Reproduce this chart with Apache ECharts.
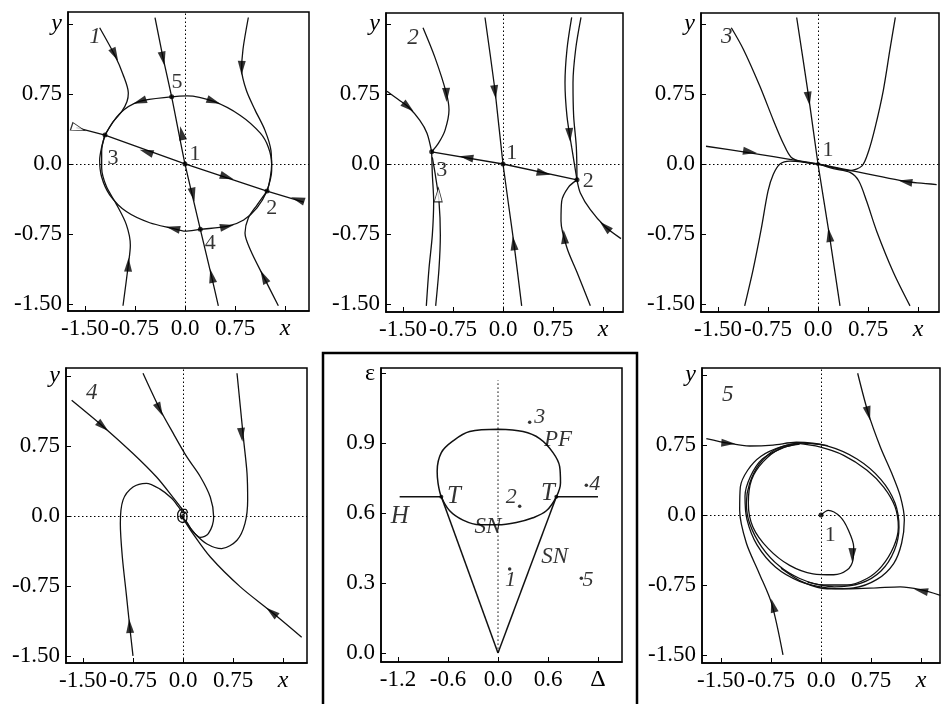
<!DOCTYPE html>
<html>
<head>
<meta charset="utf-8">
<script src="https://cdn.jsdelivr.net/npm/echarts@6/dist/echarts.min.js"></script>
<style>
  html, body { margin: 0; padding: 0; background: #fff; }
  #chart { width: 942px; height: 704px; }
</style>
</head>
<body>
<div id="chart"></div>
<script>
// ---------- tick values and tick texts ----------
const tickPhase = [-1.5, -0.75, 0, 0.75, 1.5];
const tickPhaseText = ['-1.50', '-0.75', '0.0', '0.75'];
const tickDelta = [-1.2, -0.6, 0, 0.6, 1.2];
const tickDeltaText = ['-1.2', '-0.6', '0.0', '0.6'];
const tickEps = [0, 0.3, 0.6, 0.9, 1.2];
const tickEpsText = ['0.0', '0.3', '0.6', '0.9'];

// ---------- portrait 1: five equilibria ----------
const p1Cycle = [[-1.20,0.31],[-0.98,0.54],[-0.68,0.67],[-0.20,0.72],[0.03,0.73],[0.43,0.67],[0.83,0.52],[1.13,0.33],[1.25,0.18],[1.30,0.0],[1.28,-0.14],[1.23,-0.29],[1.08,-0.47],[0.88,-0.60],[0.63,-0.67],[0.23,-0.70],[0.0,-0.72],[-0.18,-0.69],[-0.53,-0.63],[-0.88,-0.51],[-1.13,-0.33],[-1.25,-0.14],[-1.28,0.04],[-1.25,0.18],[-1.20,0.31]];
const p1Line312 = [[-1.63,0.39],[-1.20,0.31],[0,0],[1.23,-0.29],[1.78,-0.41]];
const p1Line514 = [[-0.45,1.57],[-0.33,1.14],[-0.20,0.72],[0,0],[0.23,-0.70],[0.40,-1.21],[0.50,-1.52]];
const p1UpperLeft = [[-1.28,1.46],[-1.05,1.16],[-0.93,0.96],[-0.85,0.76],[-0.87,0.67],[-0.95,0.56],[-1.08,0.45],[-1.20,0.31]];
const p1UpperRight = [[0.95,1.57],[0.87,1.23],[0.85,1.01],[0.92,0.79],[1.05,0.58],[1.20,0.36],[1.29,0.14],[1.30,-0.07],[1.23,-0.29]];
const p1LowerLeft = [[-0.93,-1.52],[-0.85,-1.08],[-0.82,-0.87],[-0.88,-0.65],[-1.03,-0.43],[-1.18,-0.24],[-1.25,-0.04],[-1.25,0.14],[-1.20,0.31]];
const p1LowerRight = [[1.40,-1.52],[1.18,-1.21],[0.98,-0.92],[0.90,-0.74],[0.95,-0.58],[1.08,-0.44],[1.23,-0.29]];
// arrows: x, y, direction dx, dy, hollow
const p1Arrows = [[-1.05,1.17,0.35,-0.5],[-0.33,1.13,0.12,-0.42],[0.85,1.03,-0.02,-1],[-0.68,0.67,-1,-0.25],[0.43,0.67,1,-0.26],[-0.05,0.33,-0.3,1],[-0.58,0.13,-1,0.235],[0.63,-0.14,1,-0.235],[0.12,-0.33,0.3,-1],[-0.18,-0.69,-1,0.17],[0.63,-0.67,1,0.15],[-1.60,0.38,1,-0.235,1],[1.69,-0.38,-1,0.235],[-0.85,-1.08,0.05,1],[0.40,-1.20,-0.3,1],[1.18,-1.21,-0.42,0.6]];
const p1Points = [[0,0],[1.23,-0.29],[-1.20,0.31],[0.23,-0.70],[-0.20,0.72]];
const p1Labels = [['1',0.15,0.10],['2',1.30,-0.47],['3',-1.08,0.06],['4',0.38,-0.85],['5',-0.12,0.88]];

// ---------- portrait 2: three equilibria ----------
const p2Line312 = [[-1.07,0.13],[0,0],[1.11,-0.17]];
const p2Vertical = [[-0.27,1.57],[-0.12,0.79],[0,0],[0.16,-0.83],[0.28,-1.52]];
const p2UpperLeft = [[-1.20,1.46],[-1.02,1.14],[-0.85,0.76],[-0.81,0.58],[-0.87,0.36],[-0.97,0.22],[-1.07,0.13]];
const p2Left = [[-1.74,0.78],[-1.57,0.69],[-1.42,0.61],[-1.25,0.47],[-1.14,0.33],[-1.07,0.13]];
const p2LowerLeftA = [[-1.15,-1.52],[-1.11,-1.12],[-1.06,-0.76],[-1.04,-0.40],[-1.06,-0.11],[-1.07,0.13]];
const p2LowerLeftB = [[-1.01,-1.52],[-0.96,-1.12],[-0.94,-0.76],[-0.96,-0.40],[-1.01,-0.14],[-1.06,0.07]];
const p2UpperRightA = [[1.03,1.57],[0.96,1.23],[0.93,0.87],[0.96,0.51],[1.03,0.18],[1.11,-0.17]];
const p2UpperRightB = [[1.17,1.57],[1.09,1.23],[1.05,0.87],[1.06,0.51],[1.10,0.18],[1.11,-0.17]];
const p2LowerRight = [[1.77,-0.80],[1.53,-0.67],[1.31,-0.49],[1.16,-0.31],[1.11,-0.17]];
const p2LowerRight2 = [[1.31,-1.52],[1.11,-1.16],[0.96,-0.90],[0.87,-0.61],[0.88,-0.40],[0.98,-0.25],[1.11,-0.17]];
const p2Arrows = [[-0.55,0.07,-1,0.12],[0.61,-0.10,1,-0.15],[-0.12,0.77,0.18,-1],[0.16,-0.85,-0.18,1],[-0.85,0.74,0.05,-1],[-1.42,0.61,1,-0.6],[-0.97,-0.33,0.02,1,1],[1.0,0.31,0.1,-1],[1.53,-0.67,-1,0.65],[0.92,-0.78,-0.15,1]];
const p2Points = [[0,0],[-1.07,0.13],[1.11,-0.17]];
const p2Labels = [['1',0.13,0.12],['3',-0.92,-0.07],['2',1.28,-0.18]];

// ---------- portrait 3: degenerate node ----------
const p3Horizontal = [[-1.68,0.19],[-1.02,0.12],[0,0],[1.33,-0.19],[1.78,-0.22]];
const p3Vertical = [[-0.32,1.57],[-0.14,0.72],[0,0],[0.17,-0.76],[0.33,-1.52]];
const p3UpperLeft = [[-1.30,1.46],[-1.12,1.23],[-0.87,0.83],[-0.67,0.47],[-0.52,0.22],[-0.40,0.07],[-0.22,0.02],[0,0]];
const p3UpperRight = [[1.16,1.57],[1.08,1.23],[0.98,0.79],[0.86,0.40],[0.76,0.14],[0.66,-0.02],[0.48,-0.07],[0.23,-0.04],[0,0]];
const p3LowerLeft = [[-1.10,-1.52],[-0.97,-1.12],[-0.85,-0.69],[-0.75,-0.29],[-0.67,-0.11],[-0.57,0.0],[-0.42,0.03],[-0.22,0.02],[0,0]];
const p3LowerRight = [[1.38,-1.52],[1.13,-1.16],[0.88,-0.72],[0.73,-0.40],[0.61,-0.18],[0.48,-0.09],[0.23,-0.05],[0,0]];
const p3Arrows = [[-1.02,0.13,1,-0.115],[1.31,-0.19,-1,0.115],[-0.14,0.70,0.21,-1],[0.17,-0.76,-0.21,1]];
const p3Points = [[0,0]];
const p3Labels = [['1',0.15,0.15]];

// ---------- portrait 4: stable focus ----------
const p4UpperLeftLine = [[-1.67,1.24],[-1.20,0.96],[-0.75,0.67],[-0.40,0.42],[-0.15,0.20],[-0.02,0.08],[0.03,0.02]];
const p4LowerRightLine = [[1.78,-1.30],[1.33,-1.03],[0.86,-0.76],[0.41,-0.44],[0.13,-0.17],[0.02,-0.05],[-0.03,0.0]];
const p4Upper = [[-0.60,1.53],[-0.35,1.15],[-0.15,0.89],[0.06,0.63],[0.26,0.42],[0.41,0.20],[0.46,-0.01],[0.38,-0.19],[0.26,-0.23],[0.13,-0.15],[0.06,-0.07],[0.0,-0.02]];
const p4Right = [[0.81,1.53],[0.86,1.17],[0.91,0.81],[0.96,0.46],[0.97,0.17],[0.93,-0.08],[0.81,-0.26],[0.58,-0.35],[0.36,-0.30],[0.18,-0.19],[0.06,-0.08],[0.0,-0.02]];
const p4Left = [[-0.75,-1.50],[-0.80,-1.18],[-0.85,-0.84],[-0.91,-0.44],[-0.94,-0.08],[-0.90,0.17],[-0.75,0.31],[-0.55,0.35],[-0.35,0.29],[-0.17,0.19],[-0.07,0.10],[0.0,0.03]];
const p4Spiral = [[0.07,0.03],[0.04,0.07],[-0.03,0.07],[-0.08,0.02],[-0.07,-0.04],[-0.01,-0.07],[0.05,-0.05],[0.06,0.0],[0.03,0.04],[-0.02,0.04],[-0.04,0.0],[-0.02,-0.03],[0.01,-0.02],[0.0,0.0]];
const p4Arrows = [[-1.20,0.96,0.93,-0.57],[-0.35,1.14,0.45,-0.65],[0.88,0.87,0.14,-1],[-0.80,-1.18,-0.1,1],[1.33,-1.03,-0.95,0.55]];
const p4Points = [[0,0]];

// ---------- portrait 5: limit cycle ----------
const p5Cycle = [[-0.37,0.77],[-0.02,0.73],[0.34,0.64],[0.69,0.48],[0.94,0.30],[1.11,0.09],[1.16,-0.13],[1.09,-0.34],[0.91,-0.55],[0.69,-0.68],[0.39,-0.75],[0.04,-0.75],[-0.32,-0.68],[-0.62,-0.55],[-0.89,-0.34],[-1.07,-0.09],[-1.12,0.13],[-1.07,0.34],[-0.92,0.55],[-0.69,0.70],[-0.37,0.77]];
const p5FromCenter = [[0,0],[0.11,0.05],[0.29,-0.02],[0.41,-0.16],[0.49,-0.34],[0.48,-0.48],[0.39,-0.59],[0.19,-0.64],[-0.12,-0.63],[-0.47,-0.54],[-0.79,-0.36],[-1.02,-0.13],[-1.09,0.13],[-1.04,0.38],[-0.87,0.57],[-0.62,0.71],[-0.32,0.76]];
const p5TopLeft = [[-1.72,0.82],[-1.39,0.77],[-1.07,0.74],[-0.72,0.75],[-0.37,0.78],[0.09,0.74],[0.54,0.60],[0.90,0.38],[1.11,0.13],[1.17,-0.13],[1.10,-0.38],[0.90,-0.60],[0.60,-0.73],[0.2,-0.77],[-0.2,-0.72]];
const p5TopRight = [[0.55,1.52],[0.71,1.09],[0.89,0.73],[1.06,0.45],[1.19,0.20],[1.25,-0.05],[1.21,-0.30],[1.09,-0.52],[0.84,-0.69],[0.49,-0.78],[0.09,-0.79],[-0.27,-0.72],[-0.6,-0.57]];
const p5RightIn = [[1.79,-0.86],[1.49,-0.80],[1.19,-0.77],[0.84,-0.78],[0.44,-0.79],[0.09,-0.78],[-0.32,-0.71],[-0.68,-0.56],[-0.96,-0.32],[-1.11,-0.05],[-1.14,0.20],[-1.06,0.41],[-0.88,0.60],[-0.57,0.72],[-0.3,0.77]];
const p5BottomLeft = [[-0.57,-1.50],[-0.74,-0.95],[-0.93,-0.62],[-1.12,-0.30],[-1.22,0.05],[-1.21,0.30],[-1.10,0.48],[-0.90,0.63],[-0.60,0.73],[-0.30,0.77],[0.1,0.745]];
const p5Arrows = [[-1.39,0.77,1,-0.05],[0.71,1.09,0.35,-1],[0.47,-0.43,-0.02,-1],[1.50,-0.81,-1,0.15],[-0.72,-0.97,-0.35,1]];
const p5Points = [[0,0]];
const p5Labels = [['1',0.14,-0.22]];

// ---------- bifurcation diagram in the (Δ, ε) plane ----------
const bifLoop = [[0,0.96],[-0.34,0.95],[-0.54,0.91],[-0.68,0.86],[-0.73,0.78],[-0.72,0.73],[-0.68,0.67],[-0.58,0.61],[-0.42,0.57],[-0.22,0.55],[0,0.55],[0.22,0.56],[0.42,0.58],[0.58,0.61],[0.70,0.67],[0.75,0.73],[0.74,0.80],[0.66,0.86],[0.50,0.92],[0.30,0.95],[0,0.96]];
const bifHLeft = [[-1.18,0.67],[-0.68,0.67]];
const bifHRight = [[0.70,0.67],[1.20,0.67]];
const bifSNLeft = [[0,0],[-0.68,0.67]];
const bifSNRight = [[0,0],[0.70,0.67]];
const bifAxis = [[0,0],[0,1.17]];
const bifTPoints = [[-0.68,0.67],[0.70,0.67]];
const bifParamPoints = [[0.14,0.36],[0.26,0.63],[0.38,0.99],[1.06,0.72],[1.00,0.32]];
const bifParamLabels = [['1',0.15,0.31],['2',0.16,0.67],['3',0.50,1.01],['4',1.16,0.725],['5',1.08,0.31]];
const bifCurveLabels = [['T',-0.53,0.67],['T',0.60,0.685],['H',-1.18,0.585]];
const bifCurveLabelsSmall = [['PF',0.72,0.915],['SN',-0.12,0.54],['SN',0.68,0.41]];

// panel numbers written inside the portraits
const panelTags = [['1',-1.35,1.36],['2',-1.35,1.35],['3',-1.37,1.36],['4',-1.37,1.32],['5',-1.40,1.29]];

// ---------- layout ----------
const FONT = '"Liberation Serif", "DejaVu Serif", "Times New Roman", serif';
const INK = '#111';
// grid order: 0..2 top row, 3 portrait 4, 4 bifurcation diagram, 5 portrait 5
const layout = [
  { box: { left: 68, top: 12, width: 241, height: 299 }, x: [-1.755, 1.86], y: [-1.576, 1.629] },
  { box: { left: 386, top: 13, width: 237, height: 299 }, x: [-1.755, 1.80], y: [-1.586, 1.618] },
  { box: { left: 701, top: 13, width: 238, height: 299 }, x: [-1.755, 1.815], y: [-1.586, 1.618] },
  { box: { left: 66, top: 368, width: 241, height: 295 }, x: [-1.755, 1.86], y: [-1.576, 1.586] },
  { box: { left: 381, top: 368, width: 241, height: 294 }, x: [-1.404, 1.488], y: [-0.039, 1.223] },
  { box: { left: 702, top: 368, width: 238, height: 295 }, x: [-1.785, 1.785], y: [-1.586, 1.576] }
];

function makeAxis(dim, g, range, ticks, texts, name, italic) {
  return {
    type: 'value', gridIndex: g, min: range[0], max: range[1],
    axisLine: { show: true, onZero: false, lineStyle: { color: '#000', width: 1.5 } },
    splitLine: { show: false },
    axisTick: { show: true, inside: true, length: 5, customValues: ticks, lineStyle: { color: '#000', width: 1 } },
    axisLabel: {
      show: true, customValues: ticks, color: '#000', fontFamily: FONT, fontSize: 23,
      margin: dim === 'x' ? 6 : 6,
      formatter: function (v) {
        const i = ticks.findIndex(t => Math.abs(t - v) < 1e-6);
        if (i === ticks.length - 1) return '{n|' + name + '}';
        return i >= 0 ? texts[i] : '';
      },
      rich: { n: { fontFamily: FONT, fontSize: 24, fontStyle: italic ? 'italic' : 'normal', color: '#000' } }
    }
  };
}

const grids = layout.map(l => Object.assign({ show: true, borderColor: '#000', borderWidth: 1.5, backgroundColor: 'transparent' }, l.box));
const xAxes = layout.map((l, g) => g === 4
  ? makeAxis('x', g, l.x, tickDelta, tickDeltaText, 'Δ', false)
  : makeAxis('x', g, l.x, tickPhase, tickPhaseText, 'x', true));
const yAxes = layout.map((l, g) => g === 4
  ? makeAxis('y', g, l.y, tickEps, tickEpsText, 'ε', false)
  : makeAxis('y', g, l.y, tickPhase, tickPhaseText, 'y', true));

const series = [];
function curve(g, data, extra) {
  series.push(Object.assign({
    type: 'line', xAxisIndex: g, yAxisIndex: g, data: data, showSymbol: false, symbol: 'none',
    smooth: 0.3, silent: true, animation: false, z: 3,
    lineStyle: { color: INK, width: 1.3 }
  }, extra || {}));
}
function zeroLines(g) {
  series.push({
    type: 'line', xAxisIndex: g, yAxisIndex: g, data: [], silent: true, animation: false, z: 1,
    markLine: {
      silent: true, symbol: ['none', 'none'], animation: false, label: { show: false },
      lineStyle: { type: [1.5, 2.5], color: '#000', width: 1 },
      data: [{ xAxis: 0 }, { yAxis: 0 }]
    }
  });
}
function dots(g, pts, size) {
  series.push({
    type: 'scatter', xAxisIndex: g, yAxisIndex: g, data: pts, symbol: 'circle', symbolSize: size || 5,
    itemStyle: { color: '#000' }, silent: true, animation: false, z: 5
  });
}
function texts(g, list, size, italic) {
  series.push({
    type: 'scatter', xAxisIndex: g, yAxisIndex: g, symbolSize: 1, silent: true, animation: false, z: 6,
    itemStyle: { color: 'rgba(0,0,0,0)' },
    data: list.map(t => ({ name: t[0], value: [t[1], t[2]] })),
    label: { show: true, position: 'inside', formatter: '{b}', color: '#000', fontFamily: FONT, fontSize: size, fontStyle: italic ? 'italic' : 'normal' }
  });
}
const arrowSets = [];
function arrows(g, list) {
  const id = 'arrows' + g;
  arrowSets.push({ id: id, g: g, list: list });
  series.push({
    id: id, type: 'scatter', xAxisIndex: g, yAxisIndex: g, symbol: 'triangle', symbolSize: [8, 14],
    silent: true, animation: false, z: 7, itemStyle: { color: '#000' },
    data: list.map(a => [a[0], a[1]])
  });
}

// portrait 1
zeroLines(0);
[p1Cycle, p1UpperLeft, p1UpperRight, p1LowerLeft, p1LowerRight].forEach(d => curve(0, d));
curve(0, p1Line312, { smooth: false });
curve(0, p1Line514, { smooth: 0.2 });
dots(0, p1Points); texts(0, p1Labels, 22, false); arrows(0, p1Arrows);

// portrait 2
zeroLines(1);
[p2UpperLeft, p2Left, p2LowerLeftA, p2LowerLeftB, p2UpperRightA, p2UpperRightB, p2LowerRight, p2LowerRight2].forEach(d => curve(1, d));
curve(1, p2Line312, { smooth: false });
curve(1, p2Vertical, { smooth: 0.2 });
dots(1, p2Points); texts(1, p2Labels, 22, false); arrows(1, p2Arrows);

// portrait 3
zeroLines(2);
[p3UpperLeft, p3UpperRight, p3LowerLeft, p3LowerRight].forEach(d => curve(2, d));
curve(2, p3Horizontal, { smooth: 0.2 });
curve(2, p3Vertical, { smooth: 0.2 });
dots(2, p3Points, 4); texts(2, p3Labels, 22, false); arrows(2, p3Arrows);

// portrait 4
zeroLines(3);
[p4UpperLeftLine, p4LowerRightLine, p4Upper, p4Right, p4Left, p4Spiral].forEach(d => curve(3, d));
dots(3, p4Points, 4); arrows(3, p4Arrows);

// bifurcation diagram
curve(4, bifAxis, { smooth: false, z: 1, lineStyle: { color: '#000', width: 1, type: [1.5, 2.5] } });
curve(4, bifLoop, { smooth: 0.35, lineStyle: { color: INK, width: 1.5 } });
[bifHLeft, bifHRight, bifSNLeft, bifSNRight].forEach(d => curve(4, d, { smooth: false, lineStyle: { color: INK, width: 1.5 } }));
dots(4, bifTPoints, 4); dots(4, bifParamPoints, 3.5);
texts(4, bifParamLabels, 22, true);
texts(4, bifCurveLabels, 25, true);
texts(4, bifCurveLabelsSmall, 23, true);

// portrait 5
zeroLines(5);
[p5Cycle, p5FromCenter, p5TopLeft, p5TopRight, p5RightIn, p5BottomLeft].forEach(d => curve(5, d));
dots(5, p5Points); texts(5, p5Labels, 22, false); arrows(5, p5Arrows);

// panel numbers
[0, 1, 2, 3, 5].forEach((g, k) => texts(g, [panelTags[k]], 23, true));

const chart = echarts.init(document.getElementById('chart'), null, { renderer: 'canvas' });
chart.setOption({
  backgroundColor: '#fff',
  animation: false,
  grid: grids, xAxis: xAxes, yAxis: yAxes, series: series,
  graphic: [{
    type: 'rect', silent: true, z: 100,
    shape: { x: 323, y: 353, width: 314, height: 362 },
    style: { fill: 'none', stroke: '#000', lineWidth: 2.5 }
  }]
});

// orient every arrowhead along its trajectory in screen space
chart.setOption({
  series: arrowSets.map(s => ({
    id: s.id,
    data: s.list.map(a => {
      const p0 = chart.convertToPixel({ gridIndex: s.g }, [a[0], a[1]]);
      const p1 = chart.convertToPixel({ gridIndex: s.g }, [a[0] + a[2] * 0.05, a[1] + a[3] * 0.05]);
      const sx = p1[0] - p0[0], sy = p1[1] - p0[1];
      const item = { value: [a[0], a[1]], symbolRotate: Math.atan2(-sx, -sy) * 180 / Math.PI };
      if (a[4]) item.itemStyle = { color: '#fff', borderColor: '#000', borderWidth: 1 };
      return item;
    })
  }))
});
</script>
</body>
</html>
